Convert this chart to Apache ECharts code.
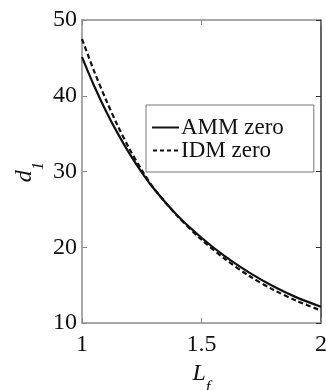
<!DOCTYPE html>
<html><head><meta charset="utf-8">
<script src="https://cdn.jsdelivr.net/npm/echarts@6/dist/echarts.min.js"></script>
<style>html,body{margin:0;padding:0;background:#fff}#c{width:326px;height:390px}</style>
</head><body><div id="c"></div>
<script>
var lf = [1.0, 1.05, 1.1, 1.15, 1.2, 1.25, 1.3, 1.4, 1.5, 1.6, 1.7, 1.8, 1.9, 2.0];
var ammZero = [45.1, 41.35, 38.0, 35.0, 32.3, 29.9, 27.75, 24.15, 21.25, 18.75, 16.65, 14.85, 13.35, 12.15];
var idmZero = [47.5, 43.3, 39.5, 36.0, 32.9, 30.2, 27.8, 24.1, 21.0, 18.4, 16.2, 14.4, 12.9, 11.65];
var xTicks = [1, 1.5, 2];
var yTicks = [10, 20, 30, 40, 50];
var seriesNames = ['AMM zero', 'IDM zero'];

var font = "'Liberation Serif','Times New Roman',serif";
function pairs(xs, ys){ return xs.map(function(x,i){ return [x, ys[i]]; }); }

var chart = echarts.init(document.getElementById('c'), null, {renderer:'canvas'});
var axisGray = '#8c8c8c';
var richName = {
  m: {fontFamily: font, fontSize: 24, fontStyle: 'italic', fill: '#111', color: '#111', lineHeight: 34, verticalAlign: 'top'},
  s: {fontFamily: font, fontSize: 17, fontStyle: 'italic', fill: '#111', color: '#111', lineHeight: 34, verticalAlign: 'bottom'}
};
var nameStyle = {fontFamily: font, fontSize: 24, fontStyle: 'italic', color: '#111', rich: richName};
var solidIcon = 'path://M0,0h27v2h-27z';
var dashIcon = 'path://M0,0h4v2h-4z M7,0h4v2h-4z M14,0h4v2h-4z M21,0h4v2h-4z';
chart.setOption({
  animation: false,
  backgroundColor: '#fff',
  grid: {left: 82, right: 5, top: 20, bottom: 67, containLabel: false, outerBoundsMode: 'none'},
  xAxis: [{
    type: 'value', min: xTicks[0], max: xTicks[xTicks.length-1], interval: 0.5,
    name: '{m|L}{s|f}', nameLocation: 'middle', nameGap: 29,
    nameTextStyle: nameStyle,
    axisLine: {show: true, lineStyle: {color: axisGray, width: 1.5}},
    axisTick: {show: true, inside: true, length: 5, lineStyle: {color: axisGray}},
    axisLabel: {fontFamily: font, fontSize: 24, color: '#111', margin: 10,
      formatter: function(v){ return String(v); }},
    splitLine: {show: false}
  }, {
    type: 'value', position: 'top', min: xTicks[0], max: xTicks[xTicks.length-1], interval: 0.5,
    axisLine: {show: true, lineStyle: {color: axisGray, width: 1.5}},
    axisTick: {show: true, inside: true, length: 5, lineStyle: {color: axisGray}},
    axisLabel: {show: false}, splitLine: {show: false}
  }],
  yAxis: [{
    type: 'value', min: yTicks[0], max: yTicks[yTicks.length-1], interval: 10,
    axisLine: {show: true, lineStyle: {color: axisGray, width: 1.5}},
    axisTick: {show: true, inside: true, length: 5, lineStyle: {color: axisGray}},
    axisLabel: {fontFamily: font, fontSize: 24, color: '#111', margin: 5},
    splitLine: {show: false}
  }, {
    type: 'value', position: 'right', min: yTicks[0], max: yTicks[yTicks.length-1], interval: 10,
    axisLine: {show: true, lineStyle: {color: '#333', width: 1.5}},
    axisTick: {show: true, inside: true, length: 5, lineStyle: {color: '#333'}},
    axisLabel: {show: false}, splitLine: {show: false}
  }],
  legend: {
    orient: 'vertical', left: 146, top: 105, width: 161,
    padding: [11, 30, 10, 6], itemGap: 0,
    backgroundColor: '#fff', borderColor: '#777', borderWidth: 1,
    itemWidth: 27, itemHeight: 2,
    itemStyle: {color: '#111', borderWidth: 0},
    textStyle: {fontFamily: font, fontSize: 23, color: '#111', lineHeight: 23, padding: [0,0,0,-3]},
    data: [{name: seriesNames[0], icon: solidIcon}, {name: seriesNames[1], icon: dashIcon}]
  },
  series: [{
    name: seriesNames[0], type: 'line', data: pairs(lf, ammZero), smooth: 0.3,
    symbol: 'none', xAxisIndex: 0, yAxisIndex: 0,
    lineStyle: {color: '#111', width: 2.2, type: 'solid'}, itemStyle: {color: '#111'}
  }, {
    name: seriesNames[1], type: 'line', data: pairs(lf, idmZero), smooth: 0.3,
    symbol: 'none', xAxisIndex: 0, yAxisIndex: 0,
    lineStyle: {color: '#111', width: 2.2, type: [5, 3]}, itemStyle: {color: '#111'}
  }],
  graphic: [{
    type: 'text', x: 30, y: 172, rotation: Math.PI / 2, silent: true,
    style: {text: '{m|d}{s|1}', rich: richName, align: 'center', verticalAlign: 'middle',
      font: 'italic 24px ' + font, fill: '#111'}
  }]
});
</script>
</body></html>
